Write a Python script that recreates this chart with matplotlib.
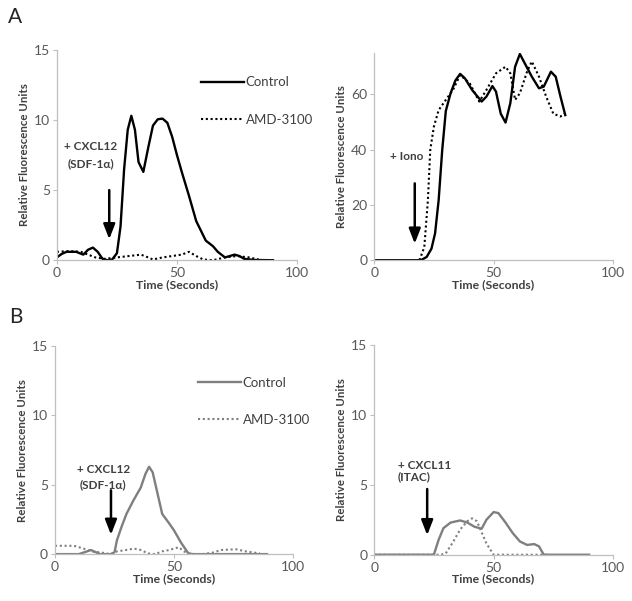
import matplotlib.pyplot as plt

plt.rcParams['font.family'] = ['Lato', 'DejaVu Sans']

# Panel A, CXCL12 (left)
a1_t_ctrl = [0, 2, 4, 8, 11, 13, 15, 17, 19, 21, 23, 25, 26.5, 28, 29.5, 31, 32.5, 34, 36, 38, 40, 42, 44, 46, 48, 50, 52, 55, 58, 62, 65, 67, 70, 72, 74, 76, 78, 82, 90]
a1_y_ctrl = [0.2, 0.45, 0.6, 0.6, 0.4, 0.75, 0.9, 0.6, 0.1, 0, 0.05, 0.5, 2.4, 6.5, 9.3, 10.3, 9.3, 7.0, 6.3, 8.0, 9.6, 10.05, 10.1, 9.8, 8.8, 7.5, 6.3, 4.6, 2.8, 1.4, 1.0, 0.6, 0.2, 0.3, 0.4, 0.3, 0.1, 0.02, 0]
a1_t_amd = [0, 5, 10, 13, 16, 20, 25, 30, 35, 38, 40, 44, 48, 52, 55, 58, 61, 65, 70, 75, 80, 84]
a1_y_amd = [0.6, 0.65, 0.6, 0.4, 0.2, 0.1, 0.2, 0.3, 0.4, 0.2, 0.05, 0.2, 0.3, 0.4, 0.6, 0.3, 0.05, 0, 0.2, 0.3, 0.2, 0.05]

# Panel A, ionomycin (right)
a2_t_ctrl = [0, 10, 18, 20, 22, 24, 25.5, 27, 28.5, 30, 32, 34, 36, 38, 41, 45, 47, 49.5, 51, 53, 55, 57, 59, 61, 63, 66, 69, 71, 74, 76, 78, 80]
a2_y_ctrl = [0, 0, 0, 0.2, 1.2, 4.2, 9.7, 21.7, 39.9, 54, 60.4, 65, 67.4, 65.8, 61.6, 57.4, 59.2, 63, 61, 53, 49.8, 56.8, 70, 74.6, 71.3, 66.4, 62.2, 62.8, 68.2, 66.4, 59.2, 52.5]
a2_t_amd = [19, 21, 22.5, 23.5, 25, 27, 30, 33, 36, 40, 44, 47, 51, 55, 57, 59, 61, 64, 66, 69, 72, 75, 78, 80]
a2_y_amd = [0, 4.8, 21.7, 40, 48.3, 54.3, 58, 61.6, 67, 64, 57.4, 61.6, 67.6, 70, 67.6, 58, 60.4, 68.2, 71.9, 66.4, 59.2, 53, 52, 53.2]

# Panel B, CXCL12 (left)
b1_t_ctrl = [0, 10, 13, 15, 17, 19, 24, 25, 26, 28, 30, 33, 36, 38, 39.5, 41, 43, 45, 48, 50, 53, 56, 58, 70, 89]
b1_y_ctrl = [0, 0, 0.17, 0.3, 0.15, 0, 0, 0.15, 1.0, 2.0, 2.9, 3.9, 4.8, 5.8, 6.3, 5.9, 4.4, 2.9, 2.2, 1.7, 0.8, 0.05, 0, 0, 0]
b1_t_amd = [0, 8, 12, 15, 20, 23, 26, 30, 33, 36, 39, 42, 45, 48, 52, 54, 57, 62, 66, 70, 76, 80, 86]
b1_y_amd = [0.6, 0.6, 0.4, 0.2, 0.1, 0, 0.2, 0.3, 0.4, 0.3, 0.05, 0, 0.2, 0.3, 0.5, 0.2, 0, 0, 0.1, 0.3, 0.35, 0.2, 0.05]

# Panel B, CXCL11 (right)
b2_t_ctrl = [0, 10, 25, 27, 29, 32, 36, 39, 42, 45, 47, 50, 52, 55, 58, 61, 64, 67, 69, 71, 75, 90]
b2_y_ctrl = [0, 0, 0, 1.07, 1.9, 2.3, 2.45, 2.3, 2.0, 1.86, 2.5, 3.05, 2.98, 2.3, 1.55, 0.95, 0.7, 0.76, 0.6, 0, 0, 0]
b2_t_amd = [0, 28, 30, 33, 36, 39, 41, 43, 45, 47, 50, 60, 73]
b2_y_amd = [0, 0, 0.1, 0.9, 1.8, 2.4, 2.6, 2.4, 1.6, 0.8, 0, 0, 0]

DOT = (0, (1, 1.3))
GRAY = '#7f7f7f'
TXT = '#404040'
FS = 8.5

fig = plt.figure(figsize=(6.32, 6.01), dpi=100)
ax1 = fig.add_axes([0.090, 0.567, 0.380, 0.350])
ax2 = fig.add_axes([0.592, 0.567, 0.378, 0.345])
ax3 = fig.add_axes([0.087, 0.078, 0.377, 0.346])
ax4 = fig.add_axes([0.592, 0.077, 0.378, 0.349])


def style(ax, ymax, yticks, xlab=True):
    ax.set_xlim(0, 100)
    ax.set_ylim(0, ymax)
    ax.set_xticks([0, 50, 100])
    ax.set_yticks(yticks)
    for s in ['top', 'right']:
        ax.spines[s].set_visible(False)
    for s in ['left', 'bottom']:
        ax.spines[s].set_color('#bfbfbf')
        ax.spines[s].set_linewidth(0.9)
    ax.tick_params(colors='#bfbfbf', labelcolor='#595959', labelsize=10, length=3, width=0.8, pad=2)
    ax.set_ylabel('Relative Fluorescence Units', fontsize=8.3, fontweight='bold', color=TXT, labelpad=3)
    if xlab:
        ax.set_xlabel('Time (Seconds)', fontsize=8.8, fontweight='bold', color=TXT, labelpad=0)


def arrow(ax, x, y0, y1):
    ax.annotate('', xy=(x, y1), xytext=(x, y0),
                arrowprops=dict(arrowstyle='-|>,head_length=0.9,head_width=0.35', lw=1.8, color='black',
                                shrinkA=0, shrinkB=0))


# A left
ax1.plot(a1_t_ctrl, a1_y_ctrl, color='black', lw=1.7, label='Control')
ax1.plot(a1_t_amd, a1_y_amd, color='black', lw=1.5, ls=DOT, label='AMD-3100')
style(ax1, 15, [0, 5, 10, 15])
ax1.legend(loc='upper left', bbox_to_anchor=(0.55, 0.93), frameon=False, fontsize=9.5,
           handlelength=3.3, handletextpad=0.1, labelspacing=1.9, labelcolor=TXT)
ax1.text(14, 8.1, '+ CXCL12', fontsize=FS, fontweight='bold', color=TXT, ha='center', va='center')
ax1.text(14, 6.9, '(SDF-1\u03b1)', fontsize=FS, fontweight='bold', color=TXT, ha='center', va='center')
arrow(ax1, 21.8, 5.0, 1.5)

# A right
ax2.plot(a2_t_ctrl, a2_y_ctrl, color='black', lw=1.7)
ax2.plot(a2_t_amd, a2_y_amd, color='black', lw=1.5, ls=DOT)
style(ax2, 75, [0, 20, 40, 60])
ax2.text(13.5, 37.7, '+ Iono', fontsize=FS, fontweight='bold', color=TXT, ha='center', va='center')
arrow(ax2, 17.0, 27.8, 6.0)

# B left
ax3.plot(b1_t_ctrl, b1_y_ctrl, color=GRAY, lw=1.7, label='Control')
ax3.plot(b1_t_amd, b1_y_amd, color=GRAY, lw=1.5, ls=DOT, label='AMD-3100')
style(ax3, 15, [0, 5, 10, 15])
ax3.legend(loc='upper left', bbox_to_anchor=(0.55, 0.91), frameon=False, fontsize=9.5,
           handlelength=3.3, handletextpad=0.1, labelspacing=1.9, labelcolor=TXT)
ax3.text(20.3, 6.1, '+ CXCL12', fontsize=FS, fontweight='bold', color=TXT, ha='center', va='center')
ax3.text(20.3, 5.0, '(SDF-1\u03b1)', fontsize=FS, fontweight='bold', color=TXT, ha='center', va='center')
arrow(ax3, 23.5, 4.6, 1.4)

# B right
ax4.plot(b2_t_ctrl, b2_y_ctrl, color=GRAY, lw=1.7)
ax4.plot(b2_t_amd, b2_y_amd, color=GRAY, lw=1.5, ls=DOT)
style(ax4, 15, [0, 5, 10, 15])
ax4.text(10, 6.4, '+ CXCL11', fontsize=FS, fontweight='bold', color=TXT, ha='left', va='center')
ax4.text(10, 5.6, '(ITAC)', fontsize=FS, fontweight='bold', color=TXT, ha='left', va='center')
arrow(ax4, 22.2, 4.7, 1.4)

fig.text(0.012, 0.972, 'A', fontsize=15, color='#262626', va='center')
fig.text(0.015, 0.472, 'B', fontsize=15, color='#262626', va='center')

fig.savefig('out.png', dpi=100)
